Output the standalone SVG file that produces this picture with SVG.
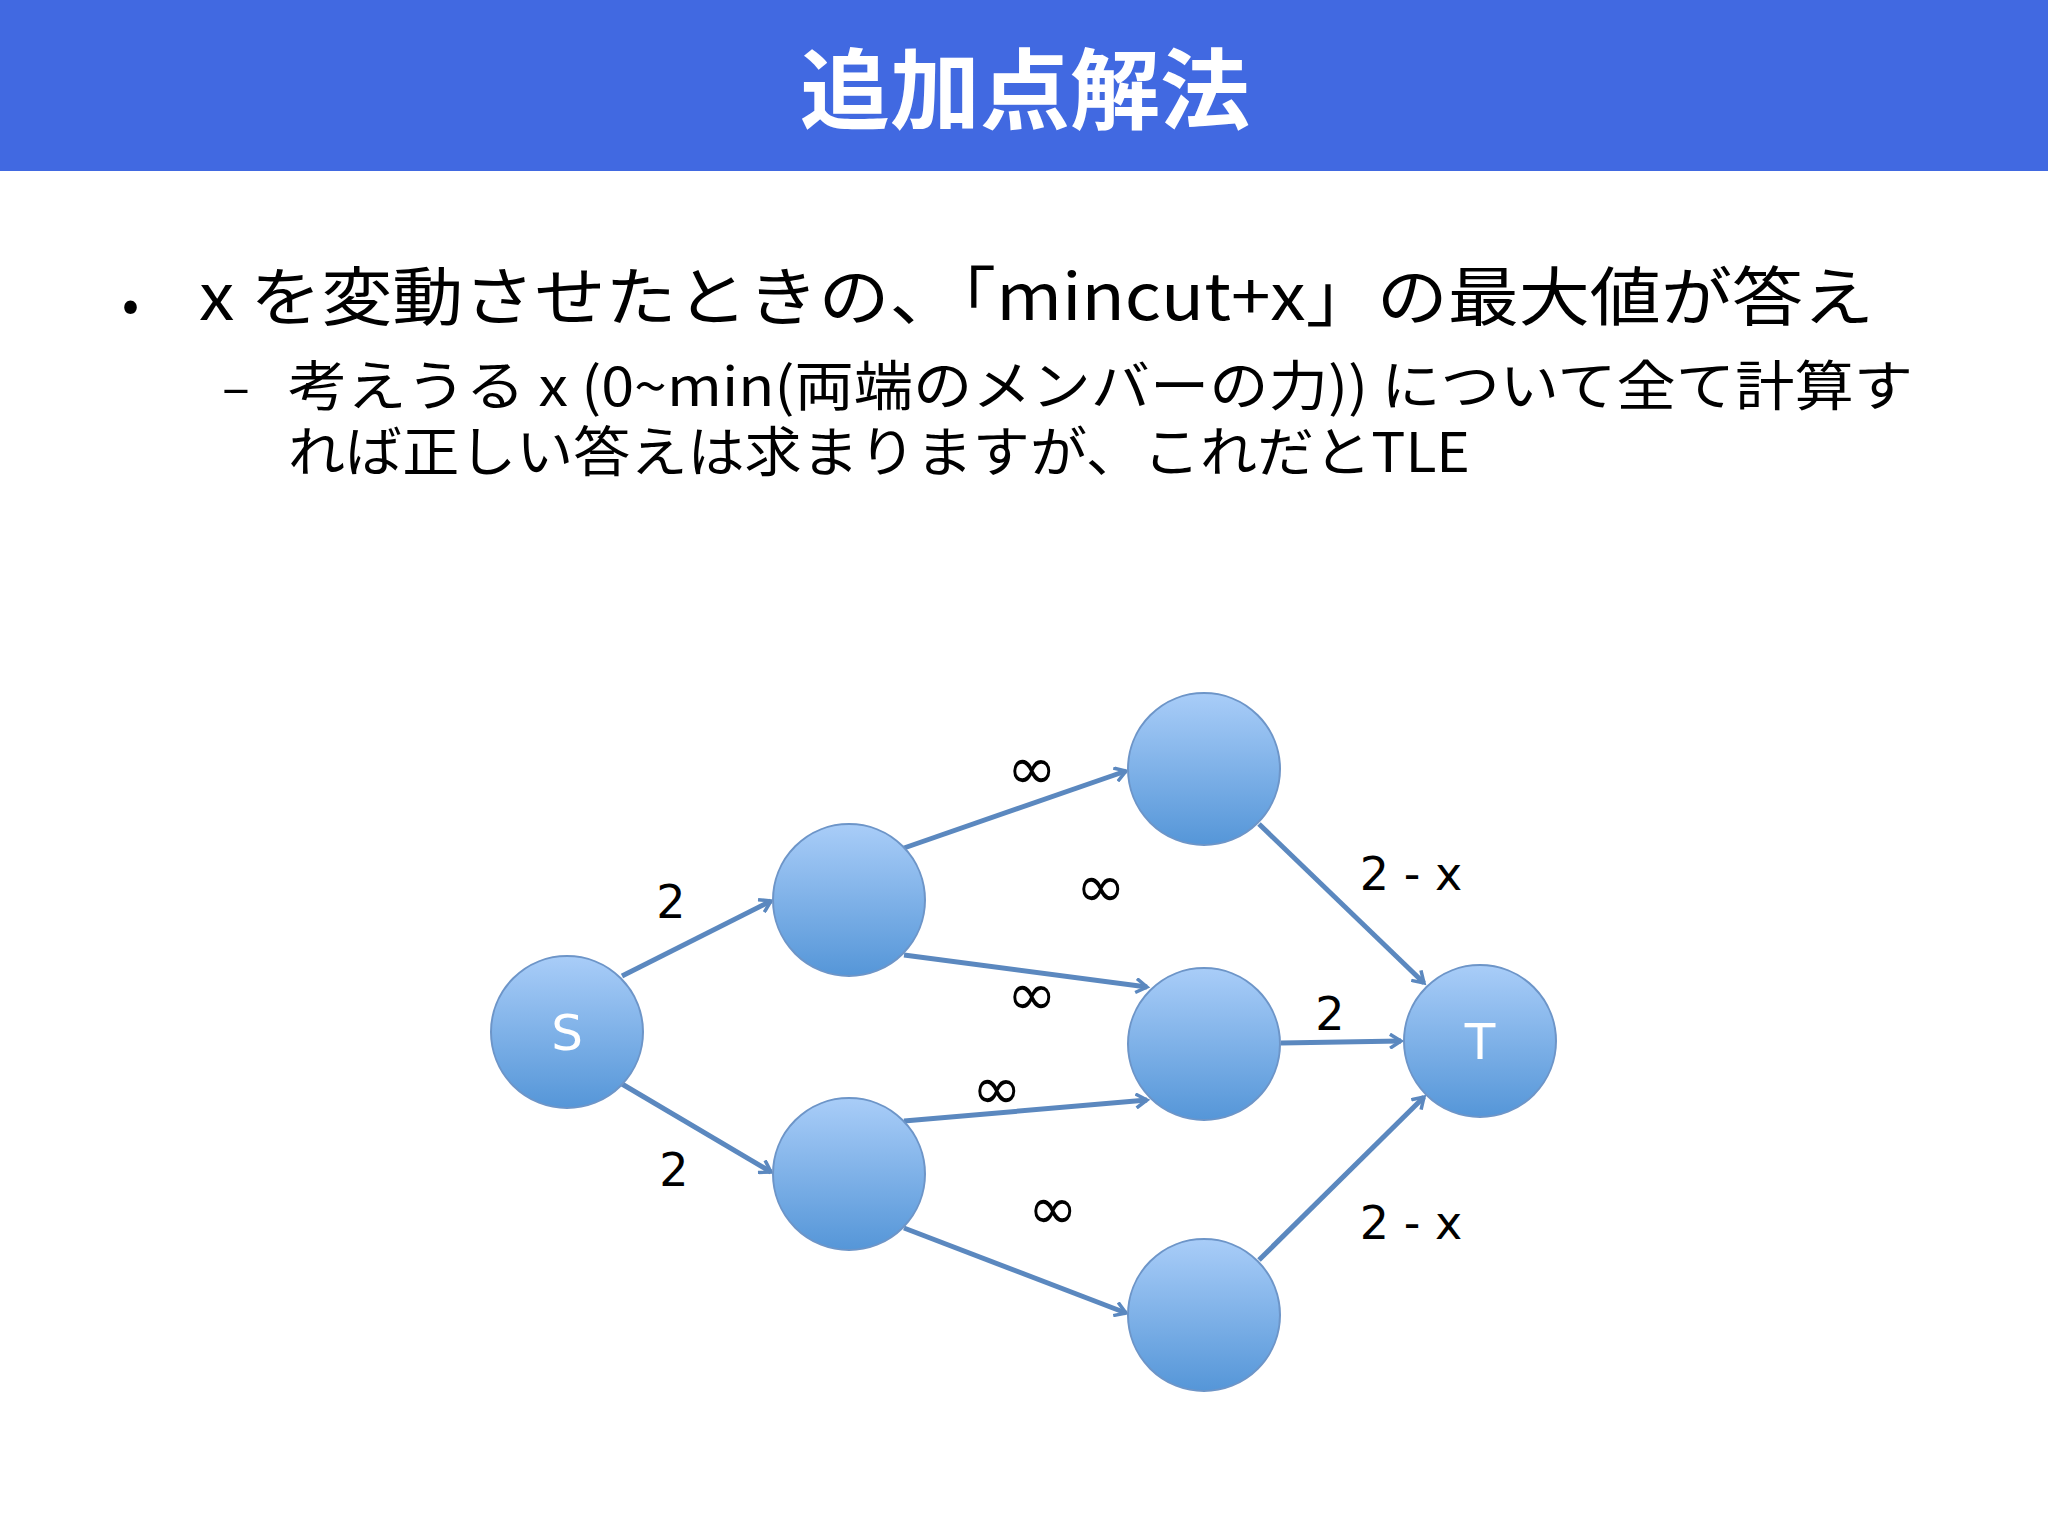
<svg xmlns="http://www.w3.org/2000/svg" width="2048" height="1536" viewBox="0 0 2048 1536">
<style>
.jp{font-family:"Noto Sans CJK JP","Noto Sans",sans-serif;fill:#000}
.lb{font-family:"DejaVu Sans","Noto Sans",sans-serif;font-size:46px;fill:#000;text-anchor:middle}
.inf{font-family:"DejaVu Sans",sans-serif;font-size:60px;fill:#000;text-anchor:middle}
.n{fill:url(#g);stroke:#6d95c8;stroke-width:2}
.e{stroke:#5b88bf;stroke-width:5;fill:none;marker-end:url(#ar)}
.nt{font-family:"DejaVu Sans",sans-serif;font-size:50px;fill:#fff;text-anchor:middle}
</style>
<defs>
<linearGradient id="g" x1="0" y1="0" x2="0" y2="1"><stop offset="0" stop-color="#a9cdf8"/><stop offset="1" stop-color="#5596d8"/></linearGradient>
<marker id="ar" markerWidth="16" markerHeight="16" refX="12" refY="8" orient="auto" markerUnits="userSpaceOnUse"><path d="M1,1 L12,8 L1,15" fill="none" stroke="#5b88bf" stroke-width="3.5"/></marker>
</defs>
<rect width="2048" height="1536" fill="#fff"/>
<rect width="2048" height="171" fill="#4169e1"/>
<text x="800" y="122" textLength="450" lengthAdjust="spacingAndGlyphs" font-family="Noto Sans CJK JP,sans-serif" font-weight="bold" font-size="88" fill="#fff">追加点解法</text>
<text class="jp" x="122" y="322" font-size="50">•</text>
<text class="jp" x="199" y="320" font-size="64" textLength="1675" lengthAdjust="spacingAndGlyphs">x を変動させたときの、「mincut+x」の最大値が答え</text>
<text class="jp" x="222" y="406" font-size="52">–</text>
<text class="jp" x="288" y="406" font-size="54" textLength="1625" lengthAdjust="spacingAndGlyphs">考えうる x (0~min(両端のメンバーの力)) について全て計算す</text>
<text class="jp" x="288" y="472" font-size="54" textLength="1182" lengthAdjust="spacingAndGlyphs">れば正しい答えは求まりますが、これだとTLE</text>
<g id="connectors">
<line class="e" x1="622" y1="976" x2="771" y2="901"/>
<line class="e" x1="622" y1="1084" x2="771" y2="1172"/>
<line class="e" x1="904" y1="848" x2="1126" y2="771"/>
<line class="e" x1="904" y1="955" x2="1147" y2="987"/>
<line class="e" x1="904" y1="1121" x2="1147" y2="1100"/>
<line class="e" x1="904" y1="1228" x2="1126" y2="1313"/>
<line class="e" x1="1259" y1="824" x2="1424" y2="983"/>
<line class="e" x1="1281" y1="1043" x2="1401" y2="1041"/>
<line class="e" x1="1259" y1="1260" x2="1424" y2="1097"/>
</g>
<g id="S"><circle class="n" cx="567" cy="1032" r="76"/><text class="nt" x="567" y="1050">S</text></g>
<g id="A"><circle class="n" cx="849" cy="900" r="76"/></g>
<g id="B"><circle class="n" cx="849" cy="1174" r="76"/></g>
<g id="C"><circle class="n" cx="1204" cy="769" r="76"/></g>
<g id="D"><circle class="n" cx="1204" cy="1044" r="76"/></g>
<g id="E"><circle class="n" cx="1204" cy="1315" r="76"/></g>
<g id="T"><circle class="n" cx="1480" cy="1041" r="76"/><text class="nt" x="1480" y="1059">T</text></g>
<g id="labels">
<text class="lb" x="671" y="918">2</text>
<text class="lb" x="674" y="1186">2</text>
<text class="inf" x="1032" y="789">∞</text>
<text class="inf" x="1101" y="907">∞</text>
<text class="inf" x="1032" y="1015">∞</text>
<text class="inf" x="997" y="1109">∞</text>
<text class="inf" x="1053" y="1229">∞</text>
<text class="lb" x="1411" y="890">2 - x</text>
<text class="lb" x="1330" y="1030">2</text>
<text class="lb" x="1411" y="1239">2 - x</text>
</g>
</svg>
